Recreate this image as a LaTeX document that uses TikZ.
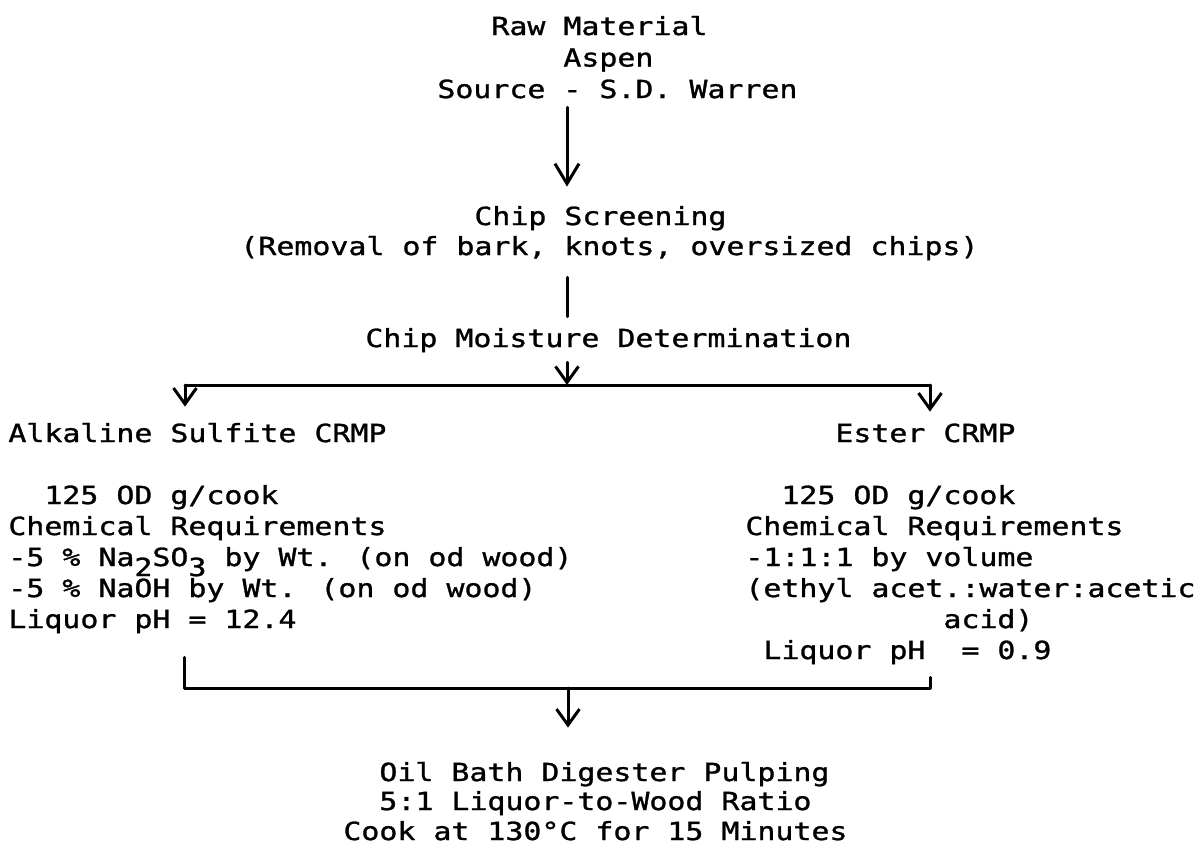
\documentclass[tikz,border=0pt]{standalone}
\usepackage{fontspec}
\newfontfamily\tw{DejaVu Sans Mono}[FakeStretch=1.2,FakeBold=1.2]
\usetikzlibrary{arrows.meta}
\begin{document}
\begin{tikzpicture}[x=0.5pt,y=-0.5pt,
  tw/.style={inner sep=0pt, anchor=base west, text height=9pt, text depth=0pt,
             font=\tw\fontsize{12.46pt}{15pt}\selectfont},
  conn/.style={line width=1.5pt, line cap=round, line join=round},
  bigarr/.style={conn, -{Straight Barb[length=10pt,width=12pt]}},
  arr/.style={conn, -{Straight Barb[length=8pt,width=11.5pt]}}]
\useasboundingbox (0,0) rectangle (1201,843);
% top block
\node[tw] (raw) at (491,35) {Raw Material};
\node[tw] (asp) at (563,66.5) {Aspen};
\node[tw] (src) at (437,98) {Source - S.D. Warren};
% screening
\node[tw] (cs) at (474,225) {Chip Screening};
\node[tw] (rem) at (240,255) {(Removal of bark, knots, oversized chips)};
% moisture
\node[tw] (moist) at (365,347) {Chip Moisture Determination};
% left column
\node[tw] (alk) at (8,442) {Alkaline Sulfite CRMP};
\node[tw] (lod) at (44,504) {125 OD g/cook};
\node[tw] (lchem) at (8,535) {Chemical Requirements};
\node[tw] (lna) at (8,566) {-5 \% Na\raisebox{-5pt}{2}SO\raisebox{-5pt}{3} by Wt. (on od wood)};
\node[tw] (loh) at (8,597) {-5 \% NaOH by Wt. (on od wood)};
\node[tw] (lph) at (8,628) {Liquor pH = 12.4};
% right column
\node[tw] (est) at (835,442) {Ester CRMP};
\node[tw] (rod) at (781,504) {125 OD g/cook};
\node[tw] (rchem) at (745,535) {Chemical Requirements};
\node[tw] (rvol) at (745,566) {-1:1:1 by volume};
\node[tw] (reth) at (745,597) {(ethyl acet.:water:acetic};
\node[tw] (racid) at (943,628) {acid)};
\node[tw] (rph) at (763,659) {Liquor pH\ \ = 0.9};
% bottom block
\node[tw] (oil) at (379,781) {Oil Bath Digester Pulping};
\node[tw] (ratio) at (379,810) {5:1 Liquor-to-Wood Ratio};
\node[tw] (cook) at (343,840) {Cook at 130°C for 15 Minutes};
% connectors
\coordinate (spine) at (567,0);
\draw[bigarr, shorten <=4.5pt, shorten >=10pt] (src.south -| spine) -- (cs.north -| spine);
\draw[conn, shorten <=11pt, shorten >=6pt] (rem.south -| spine) -- (moist.north -| spine);
\coordinate (split) at (567,385);
\coordinate (sl) at (185,385);
\coordinate (sr) at (930,385);
\draw[arr, shorten <=7.5pt] (moist.south -| split) -- (split);
\draw[conn] (sl) -- (sr);
\draw[arr, shorten >=8.5pt] (sl) -- (sl |- alk.north);
\draw[arr, shorten >=6pt] (sr) -- (sr |- est.north);
\coordinate (ml) at (184,688);
\coordinate (mr) at (930,688);
\coordinate (merge) at (568,688);
\draw[conn, shorten <=14.5pt, shorten >=9pt] (lph.south -| ml) -- (ml) -- (mr) -- (mr |- rph.south);
\draw[arr, shorten >=17.5pt] (merge) -- (merge |- oil.north);
\end{tikzpicture}
\end{document}
